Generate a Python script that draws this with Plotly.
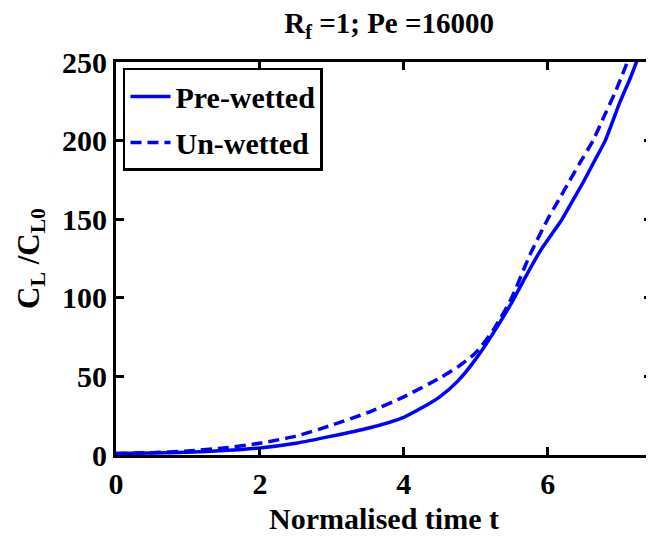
import plotly.graph_objects as go

# normalised time and concentration ratio
t_pre = [0, 0.5, 1, 1.5, 2, 2.5, 3, 3.5, 4, 4.25, 4.5, 4.75, 5, 5.25, 5.5, 5.7, 5.9, 6.05, 6.2, 6.35,
         6.5, 6.65, 6.8, 7.0, 7.15, 7.3]
cl_pre = [1, 1.2, 1.8, 2.8, 4.5, 7.5, 12, 17, 24, 30, 37, 47, 61, 78, 97, 114, 130, 140, 150, 162,
          174, 187, 200, 224, 240, 258]

t_un = [0, 0.5, 1, 1.5, 2, 2.5, 3, 3.5, 4, 4.5, 4.75, 5, 5.25, 5.5, 5.75, 6.0, 6.15, 6.3, 6.45,
        6.63, 6.8, 6.95, 7.15]
cl_un = [1, 1.5, 2.5, 4.5, 7.5, 12, 19, 27, 37, 49, 56, 65, 80, 100, 127, 150, 162, 174, 186,
         200, 217, 232, 255]

font = "Liberation Serif"
blue = "rgb(0,0,255)"

fig = go.Figure()
fig.add_trace(go.Scatter(x=t_pre, y=cl_pre, mode="lines", name="<b>Pre-wetted</b>",
                         legendgroup="pre",
                         line=dict(color=blue, width=3.5, shape="spline", smoothing=0.6)))
fig.add_trace(go.Scatter(x=t_un, y=cl_un, mode="lines", name="<b>Un-wetted</b>",
                         legendgroup="un",
                         line=dict(color=blue, width=3.5, dash="11px,6px",
                                   shape="spline", smoothing=0.6)))

axis_style = dict(
    showline=True, linecolor="black", linewidth=3, mirror="ticks",
    ticks="inside", ticklen=8, tickwidth=3, tickcolor="black",
    showgrid=False, zeroline=False, automargin=False,
    tickfont=dict(family=font, size=30, color="black"),
)

fig.update_xaxes(range=[0, 7.45], tickvals=[0, 2, 4, 6],
                 ticktext=["<b>0</b>", "<b>2</b>", "<b>4</b>", "<b>6</b>"],
                 title=dict(text="<b>Normalised time t</b>",
                            font=dict(family=font, size=30, color="black"),
                            standoff=9),
                 **axis_style)
fig.update_yaxes(range=[0, 250], tickvals=[0, 50, 100, 150, 200, 250],
                 ticktext=["<b>%d</b>" % v for v in [0, 50, 100, 150, 200, 250]],
                 title=dict(text="<b>C<sub>L</sub> /C<sub>L0</sub></b>",
                            font=dict(family=font, size=31, color="black"),
                            standoff=14),
                 **axis_style)

fig.update_layout(
    width=646, height=531,
    margin=dict(l=108, r=2, t=54, b=84),
    paper_bgcolor="white", plot_bgcolor="white",
    font=dict(family=font, color="black"),
    title=dict(text="<b>R<sub>f</sub> =1; Pe =16000</b>",
               font=dict(family=font, size=29, color="black"),
               x=0.59, xanchor="center", y=0.972, yanchor="middle"),
    legend=dict(x=0.013, y=0.985, xanchor="left", yanchor="top",
                bordercolor="black", borderwidth=2.5, bgcolor="white",
                font=dict(family=font, size=30, color="black"),
                tracegroupgap=4, itemwidth=40),
    showlegend=True,
)
fig.update_traces(cliponaxis=True)

fig.write_html("out.html")
